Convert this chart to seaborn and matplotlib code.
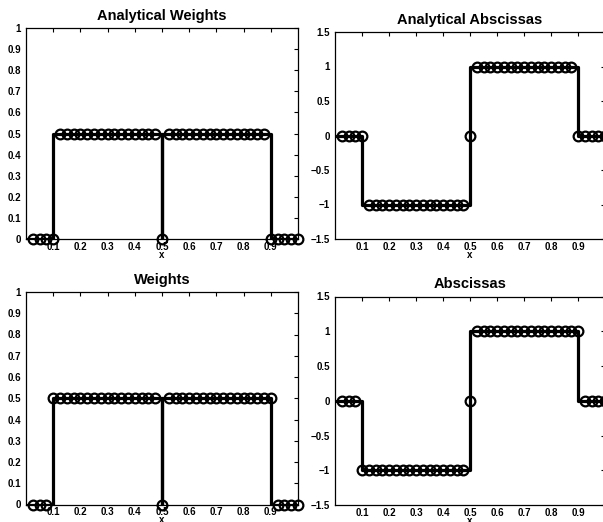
import matplotlib
matplotlib.use("Agg")
import matplotlib.pyplot as plt
import seaborn as sns

# Node positions (circles)
x_nodes = [0.025, 0.05, 0.075, 0.1, 0.125, 0.15, 0.175, 0.2, 0.225, 0.25,
           0.275, 0.3, 0.325, 0.35, 0.375, 0.4, 0.425, 0.45, 0.475, 0.5,
           0.525, 0.55, 0.575, 0.6, 0.625, 0.65, 0.675, 0.7, 0.725, 0.75,
           0.775, 0.8, 0.825, 0.85, 0.875, 0.9, 0.925, 0.95, 0.975, 1.0]

# Analytical (top row) node values
w_analytical = [0] * 4 + [0.5] * 15 + [0] + [0.5] * 15 + [0] * 5
a_analytical = [0] * 4 + [-1] * 15 + [0] + [1] * 15 + [0] * 5

# Computed (bottom row) node values
w_computed = [0] * 3 + [0.5] * 16 + [0] + [0.5] * 16 + [0] * 4
a_computed = [0] * 3 + [-1] * 16 + [0] + [1] * 16 + [0] * 4

# Exact step profiles (break points)
w_line_x = [0, 0.1, 0.1, 0.5, 0.5, 0.5, 0.9, 0.9, 1.0]
w_line_y = [0, 0, 0.5, 0.5, 0, 0.5, 0.5, 0, 0]
a_line_x = [0, 0.1, 0.1, 0.5, 0.5, 0.9, 0.9, 1.0]
a_line_y = [0, 0, -1, -1, 1, 1, 0, 0]

x_ticks = [0.1, 0.2, 0.3, 0.4, 0.5, 0.6, 0.7, 0.8, 0.9]
w_ticks = [0, 0.1, 0.2, 0.3, 0.4, 0.5, 0.6, 0.7, 0.8, 0.9, 1]
a_ticks = [-1.5, -1, -0.5, 0, 0.5, 1, 1.5]

sns.set_style("white")
plt.rcParams["font.family"] = ["Liberation Sans", "DejaVu Sans"]
plt.rcParams["font.weight"] = "bold"
plt.rcParams["text.color"] = "black"
plt.rcParams["axes.labelcolor"] = "black"

fig = plt.figure(figsize=(6.03, 5.22), dpi=100)

W, H = 603, 522
def box(l, t, r, b):
    return [l / W, 1 - b / H, (r - l) / W, (b - t) / H]

panels = [
    ("Analytical Weights", box(26, 28, 298, 239), w_line_x, w_line_y, w_analytical, w_ticks, (0, 1)),
    ("Analytical Abscissas", box(335, 32, 605, 239), a_line_x, a_line_y, a_analytical, a_ticks, (-1.5, 1.5)),
    ("Weights", box(26, 292, 298, 504.5), w_line_x, w_line_y, w_computed, w_ticks, (0, 1)),
    ("Abscissas", box(335, 296.5, 605, 505), a_line_x, a_line_y, a_computed, a_ticks, (-1.5, 1.5)),
]

def fmt(v):
    s = ("%g" % v)
    return s.replace("-", "\u2212")

for title, pos, lx, ly, yv, yt, ylim in panels:
    ax = fig.add_axes(pos)
    sns.lineplot(x=lx, y=ly, ax=ax, color="black", linewidth=2.3,
                 estimator=None, sort=False)
    sns.lineplot(x=x_nodes, y=yv, ax=ax, color="black", linestyle="",
                 marker="o", markersize=7, markerfacecolor="none",
                 markeredgecolor="black", markeredgewidth=1.6,
                 estimator=None, sort=False, clip_on=False)
    ax.set_xlim(0, 1)
    ax.set_ylim(*ylim)
    ax.set_xticks(x_ticks)
    ax.set_xticklabels([fmt(v) for v in x_ticks])
    ax.set_yticks(yt)
    ax.set_yticklabels([fmt(v) for v in yt])
    ax.tick_params(direction="in", length=3, width=0.8, top=True, right=True,
                   labelsize=7, colors="black")
    ax.tick_params(axis="x", pad=2)
    ax.tick_params(axis="y", pad=3.5)
    for lab in ax.get_xticklabels() + ax.get_yticklabels():
        lab.set_fontweight("bold")
    for sp in ax.spines.values():
        sp.set_visible(True)
        sp.set_color("black")
        sp.set_linewidth(0.9)
    ax.set_title(title, fontsize=10.5, fontweight="bold", pad=6, color="black")
    ax.set_xlabel("x", fontsize=7, fontweight="bold", labelpad=-1.5, color="black")
    ax.set_ylabel("")

fig.savefig("out.png", dpi=100)
